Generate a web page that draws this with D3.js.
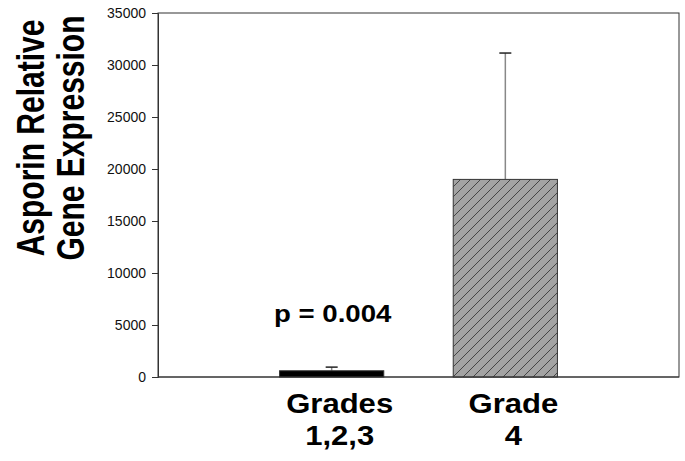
<!DOCTYPE html>
<html>
<head>
<meta charset="utf-8">
<script src="https://cdn.jsdelivr.net/npm/d3@7"></script>
<style>
  body { margin: 0; background: #fff; }
  svg { display: block; font-family: "Liberation Sans", Arial, sans-serif; }
</style>
</head>
<body>
<svg id="chart" width="685" height="461"></svg>
<script>
// values
const groups = ['Grades 1,2,3', 'Grade 4']
const labelLines = [['Grades', '1,2,3'], ['Grade', '4']]
const means = [600, 19000]
const upperErr = [350, 12150]
const yTicks = [0, 5000, 10000, 15000, 20000, 25000, 30000, 35000]
const titleLines = ['Asporin Relative', 'Gene Expression']
const pText = 'p = 0.004'

const svg = d3.select('#chart')
const plot = { left: 158, right: 679, top: 13, bottom: 377 }
const stretch = 1.15 // the source figure is a bit wider than tall

const x = d3.scaleLinear().domain([0, 3]).range([plot.left, plot.right])
const y = d3.scaleLinear().domain([0, 35000]).range([plot.bottom, plot.top])
const barW = x(0.6) - x(0)

// hatch for the grey bar
const defs = svg.append('defs')
const pat = defs.append('pattern')
  .attr('id', 'hatch')
  .attr('patternUnits', 'userSpaceOnUse')
  .attr('width', 10).attr('height', 10)
pat.append('rect').attr('width', 10).attr('height', 10).attr('fill', '#a3a3a3')
pat.append('path')
  .attr('d', 'M-1,1 l2,-2 M0,10 l10,-10 M9,11 l2,-2')
  .attr('stroke', '#3a3a3a').attr('stroke-width', 0.9)

// frame
svg.append('rect')
  .attr('x', plot.left).attr('y', plot.top)
  .attr('width', plot.right - plot.left)
  .attr('height', plot.bottom - plot.top)
  .attr('fill', 'none').attr('stroke', '#333').attr('stroke-width', 1)

// y axis
const yAxis = svg.append('g')
  .attr('transform', `translate(${plot.left},0)`)
  .call(d3.axisLeft(y).tickValues(yTicks).tickSize(6).tickPadding(6).tickFormat(d3.format('d')))
yAxis.select('.domain').attr('stroke', '#333')
yAxis.selectAll('.tick line').attr('stroke', '#333')
yAxis.selectAll('.tick text')
  .attr('font-size', 14).attr('fill', '#111')
  .attr('font-family', '"Liberation Sans", Arial, sans-serif')

// error bars (upper only)
const err = svg.append('g')
groups.forEach((g, i) => {
  const cx = x(i + 1)
  err.append('line')
    .attr('x1', cx).attr('x2', cx)
    .attr('y1', y(means[i])).attr('y2', y(means[i] + upperErr[i]))
    .attr('stroke', '#888').attr('stroke-width', 1.5)
  err.append('line')
    .attr('x1', cx - 6).attr('x2', cx + 6)
    .attr('y1', y(means[i] + upperErr[i])).attr('y2', y(means[i] + upperErr[i]))
    .attr('stroke', '#222').attr('stroke-width', 1.5)
})

// bars
svg.append('g').selectAll('rect')
  .data(means)
  .join('rect')
  .attr('x', (d, i) => x(i + 1) - barW / 2)
  .attr('y', d => y(d))
  .attr('width', barW)
  .attr('height', d => y(0) - y(d))
  .attr('fill', (d, i) => i === 0 ? '#000' : 'url(#hatch)')
  .attr('stroke', '#333').attr('stroke-width', 1)

// bottom axis line on top of the bars
svg.append('line')
  .attr('x1', plot.left).attr('x2', plot.right)
  .attr('y1', plot.bottom).attr('y2', plot.bottom)
  .attr('stroke', '#333')

// p value
svg.append('text')
  .attr('transform', `translate(${x(1) + 1},322) scale(${stretch},1)`)
  .attr('text-anchor', 'middle')
  .attr('font-size', 24).attr('font-weight', 'bold').attr('fill', '#000')
  .text(pText)

// category labels
labelLines.forEach((lines, i) => {
  svg.append('text')
    .attr('transform', `translate(${x(i + 1) + 8},0) scale(${stretch},1)`)
    .attr('text-anchor', 'middle')
    .attr('font-size', 27).attr('font-weight', 'bold').attr('fill', '#000')
    .selectAll('tspan')
    .data(lines)
    .join('tspan')
    .attr('x', 0)
    .attr('y', (d, j) => 413 + j * 32)
    .text(d => d)
})

// y title: glyphs are stretched across the screen x direction too
const tStretch = 1.3
const title = svg.append('text')
  .attr('transform', `translate(0,138) rotate(-90) scale(1,${tStretch})`)
  .attr('text-anchor', 'middle')
  .attr('font-size', 30).attr('font-weight', 'bold').attr('fill', '#000')
title.selectAll('tspan')
  .data(titleLines)
  .join('tspan')
  .attr('x', 0)
  .attr('y', (d, j) => (44 + j * 40) / tStretch)
  .text(d => d)
</script>
</body>
</html>
